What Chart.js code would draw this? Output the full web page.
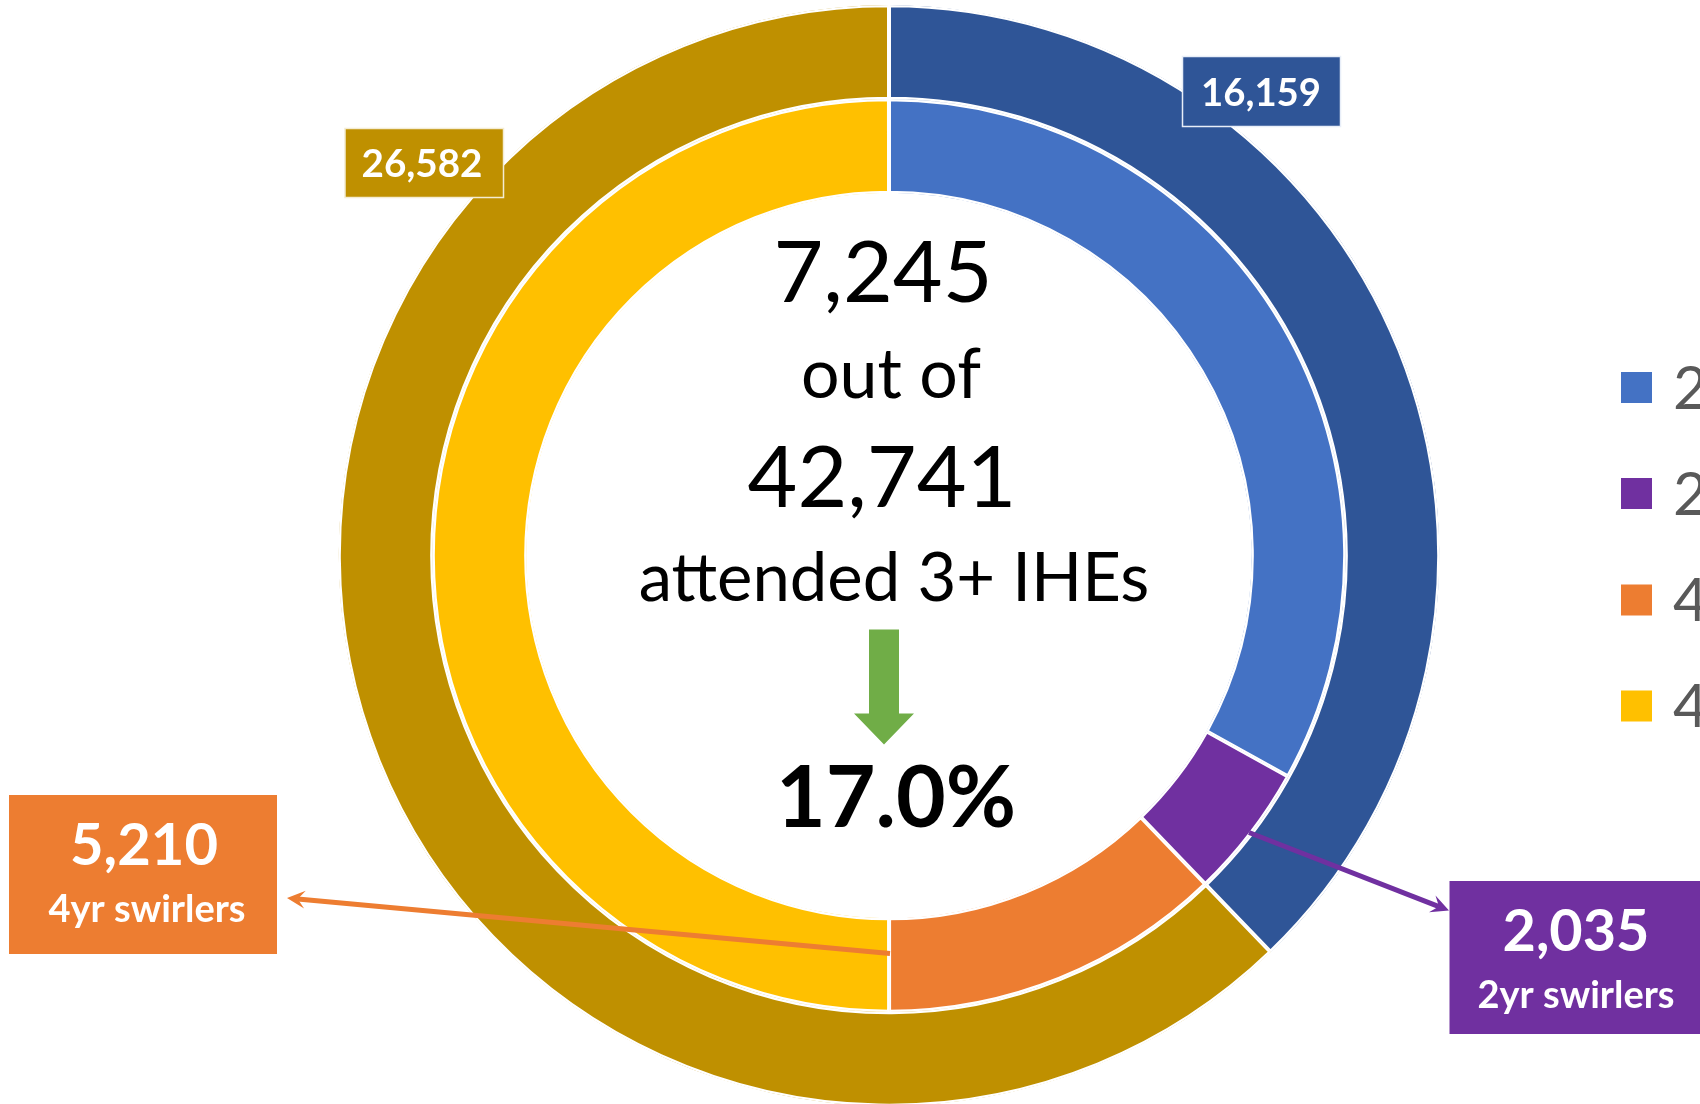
<!DOCTYPE html>
<html>
<head>
<meta charset="utf-8">
<script src="https://cdn.jsdelivr.net/npm/chart.js@4/dist/chart.umd.min.js"></script>
<style>
  html, body { margin: 0; padding: 0; background: #fff; overflow: hidden; }
  canvas { display: block; }
</style>
</head>
<body>
<canvas id="swirlChart" width="1700" height="1104"></canvas>
<script>
// legend categories (inner ring) - only the first letter shows in the picture
const legendLabels = ["2yr non-swirlers", "2yr swirlers", "4yr swirlers", "4yr non-swirlers"];
const innerValues = [14124, 2035, 5210, 21372];
const innerColors = ["#4472C4", "#7030A0", "#ED7D31", "#FFC000"];

// outer ring: totals by starting sector
const outerLabels = ["2yr", "4yr"];
const outerValues = [16159, 26582];
const outerColors = ["#2F5597", "#BF9000"];

const swirlerLabels = ["2yr swirlers", "4yr swirlers"];

const fmt = (n) => n.toLocaleString("en-US");
const FONT = "Lato, 'Open Sans', sans-serif";

// draw text, squeezed to a max width like the original Calibri
const text = (ctx, str, x, y, font, color, maxW) => {
  ctx.font = font;
  ctx.fillStyle = color;
  ctx.textAlign = "center";
  ctx.textBaseline = "alphabetic";
  ctx.fillText(str, x, y, maxW);
};

const arrowLine = (ctx, x1, y1, x2, y2, color, width) => {
  const ang = Math.atan2(y2 - y1, x2 - x1);
  const len = 18, half = 9;
  const c = Math.cos(ang), s = Math.sin(ang);
  ctx.strokeStyle = color;
  ctx.fillStyle = color;
  ctx.lineWidth = width;
  ctx.beginPath();
  ctx.moveTo(x1, y1);
  ctx.lineTo(x2 - c * len * 0.6, y2 - s * len * 0.6);
  ctx.stroke();
  ctx.beginPath();
  ctx.moveTo(x2, y2);
  ctx.lineTo(x2 - c * len + s * half, y2 - s * len - c * half);
  ctx.lineTo(x2 - c * len * 0.6, y2 - s * len * 0.6);
  ctx.lineTo(x2 - c * len - s * half, y2 - s * len + c * half);
  ctx.closePath();
  ctx.fill();
};

const labelBox = (ctx, x, y, w, h, fill, border) => {
  ctx.fillStyle = fill;
  ctx.fillRect(x, y, w, h);
  if (border) {
    ctx.strokeStyle = border;
    ctx.lineWidth = 1.5;
    ctx.strokeRect(x, y, w, h);
  }
};

const overlayPlugin = {
  id: "overlay",
  afterDraw(chart) {
    const ctx = chart.ctx;
    const arc = chart.getDatasetMeta(0).data[0];
    const cx = arc.x, cy = arc.y;
    const total = outerValues.reduce((a, b) => a + b, 0);
    const swirlers = innerValues[1] + innerValues[2];
    ctx.save();

    // centre text
    text(ctx, fmt(swirlers), cx - 6, cy - 254, "86px " + FONT, "#000", 222);
    text(ctx, "out of", cx + 2, cy - 158, "70px " + FONT, "#000", 180);
    text(ctx, fmt(total), cx - 7, cy - 49, "86px " + FONT, "#000", 270);
    text(ctx, "attended 3+ IHEs", cx + 5, cy + 45, "67px " + FONT, "#000", 525);

    // green down arrow
    ctx.fillStyle = "#70AD47";
    ctx.beginPath();
    ctx.moveTo(cx - 20, cy + 74);
    ctx.lineTo(cx + 10, cy + 74);
    ctx.lineTo(cx + 10, cy + 158);
    ctx.lineTo(cx + 25, cy + 158);
    ctx.lineTo(cx - 5, cy + 189);
    ctx.lineTo(cx - 35, cy + 158);
    ctx.lineTo(cx - 20, cy + 158);
    ctx.closePath();
    ctx.fill();

    text(ctx, (swirlers / total * 100).toFixed(1) + "%", cx + 7, cy + 271, "bold 86px " + FONT, "#000", 240);

    // outer ring value boxes
    labelBox(ctx, 1182.5, 56.5, 158, 70, outerColors[0], "#E8EEF8");
    text(ctx, fmt(outerValues[0]), 1261, 106, "bold 39px " + FONT, "#fff", 120);
    labelBox(ctx, 345, 128.5, 158.5, 69, outerColors[1], "#F4ECD2");
    text(ctx, fmt(outerValues[1]), 422, 177, "bold 39px " + FONT, "#fff", 121);

    // leader arrows to swirler boxes
    arrowLine(ctx, cx + 1, cy + 398, 287, 898, innerColors[2], 5);
    arrowLine(ctx, cx + 360, cy + 277, 1449, 910.5, innerColors[1], 5);

    // swirler boxes
    labelBox(ctx, 9, 795, 268, 159, innerColors[2]);
    text(ctx, fmt(innerValues[2]), 144, 865, "bold 58px " + FONT, "#fff", 148);
    text(ctx, swirlerLabels[1], 147, 922, "bold 38px " + FONT, "#fff", 206);
    labelBox(ctx, 1449.5, 881, 260, 153, innerColors[1]);
    text(ctx, fmt(innerValues[1]), 1576, 951, "bold 58px " + FONT, "#fff", 147);
    text(ctx, swirlerLabels[0], 1576, 1008, "bold 38px " + FONT, "#fff", 206);

    // legend (runs off the right edge)
    const legendY = [387.5, 493.5, 600, 706];
    legendLabels.forEach((lab, i) => {
      ctx.fillStyle = innerColors[i];
      ctx.fillRect(1621, legendY[i] - 15.5, 31, 31);
      ctx.font = "60px " + FONT;
      ctx.fillStyle = "#595959";
      ctx.textAlign = "left";
      ctx.textBaseline = "alphabetic";
      ctx.fillText(lab, 1673, legendY[i] + 21);
    });

    ctx.restore();
  }
};

const chart = new Chart(document.getElementById("swirlChart"), {
  type: "doughnut",
  data: {
    labels: legendLabels,
    datasets: [
      {
        label: "Starting sector",
        data: outerValues,
        backgroundColor: outerColors,
        borderColor: "#fff",
        borderWidth: 2,
        borderAlign: "inner",
      },
      {
        label: "Swirl type",
        data: innerValues,
        backgroundColor: innerColors,
        borderColor: "#fff",
        borderWidth: 2,
        borderAlign: "inner",
      },
    ],
  },
  options: {
    responsive: false,
    animation: false,
    devicePixelRatio: 1,
    events: [],
    radius: 550.5,
    cutout: "65.85%",
    layout: { padding: { left: 78, right: 0, top: 7, bottom: 0 } },
    plugins: {
      legend: { display: false },
      tooltip: { enabled: false },
    },
  },
  plugins: [overlayPlugin],
});
</script>
</body>
</html>
